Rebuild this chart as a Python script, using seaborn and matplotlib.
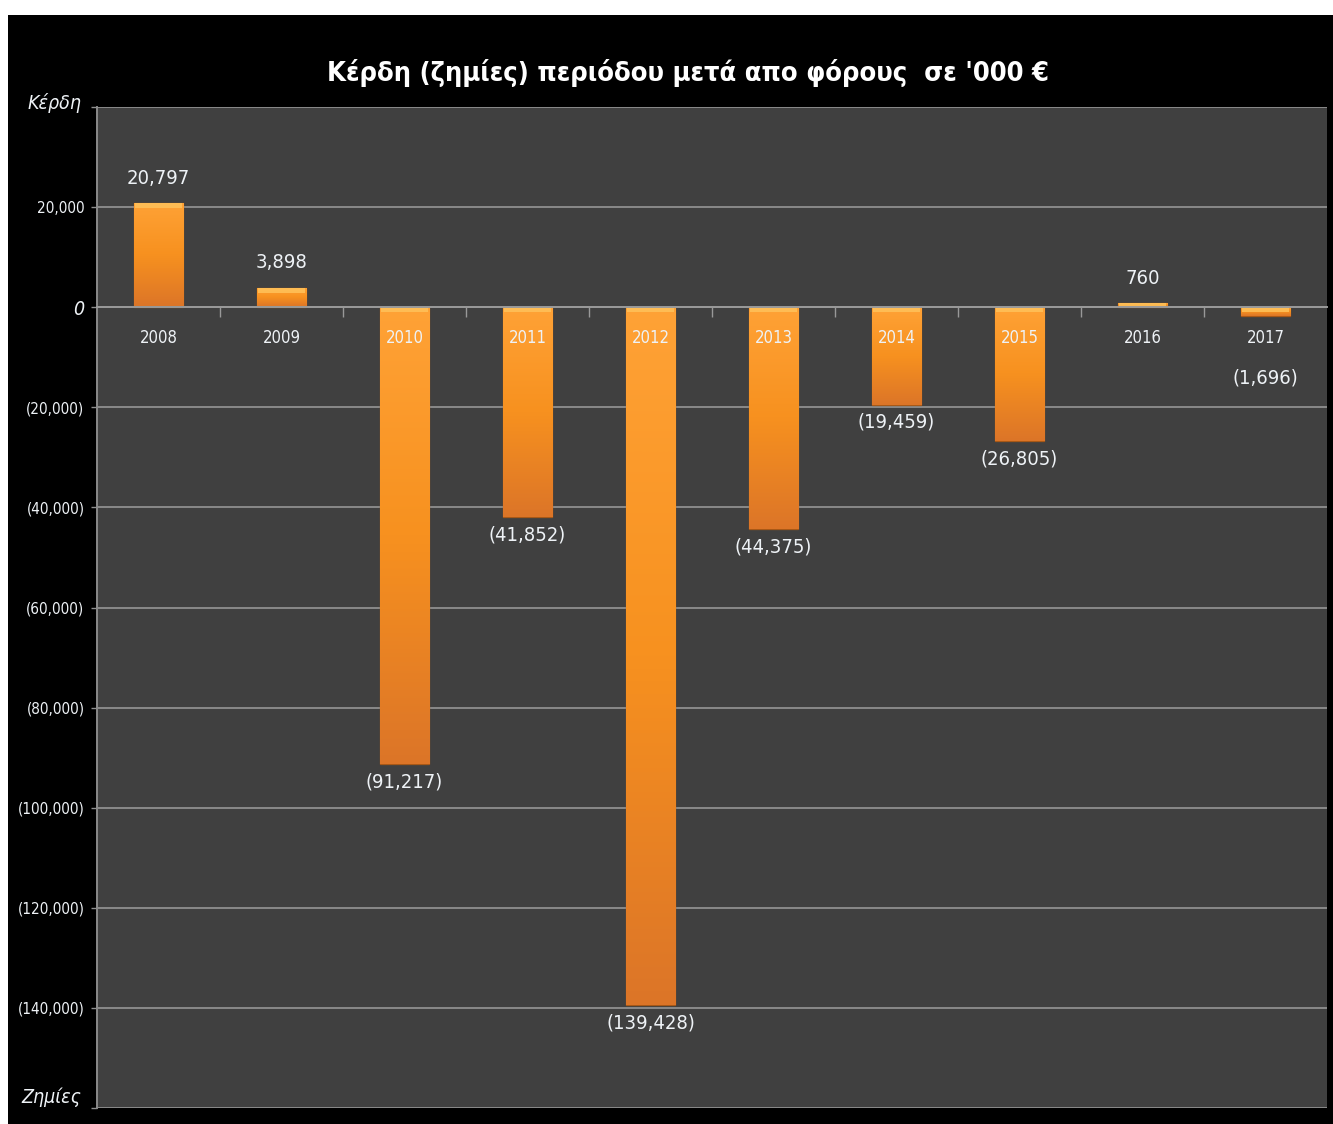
import numpy as np
import matplotlib
matplotlib.use('Agg')
import matplotlib.pyplot as plt
from matplotlib.patches import Rectangle
from matplotlib.colors import LinearSegmentedColormap
import seaborn as sns

# κέρδη / ζημίες σε '000 €
years = ['2008', '2009', '2010', '2011', '2012', '2013', '2014', '2015', '2016', '2017']
profits = [20797, 3898, -91217, -41852, -139428, -44375, -19459, -26805, 760, -1696]
ytick_vals = list(range(-160000, 40001, 20000))
title = "Κέρδη (ζημίες) περιόδου μετά απο φόρους  σε '000 €"

sns.set_style('dark')
plt.rcParams['font.family'] = ['DejaVu Sans']
plt.rcParams['font.stretch'] = 'condensed'

W, H = 1333, 1124
fig = plt.figure(figsize=(W / 100, H / 100), dpi=100, facecolor='white')
fig.patches.append(Rectangle((8 / W, 0), 1, (H - 15) / H, transform=fig.transFigure,
                             facecolor='black', edgecolor='none', zorder=-5))
ax = fig.add_axes([97 / W, 16 / H, 1230 / W, 1001 / H])
ax.set_facecolor('#404040')

sns.barplot(x=years, y=profits, color='#F7931E', width=0.4, ax=ax,
            edgecolor='#A85816', linewidth=0.9, zorder=1)
ax.set_xlim(-0.5, 9.5)
ax.set_ylim(-160000, 40000)

# gradient na kazdym slupku + jasny pasek u gory
cmap = LinearSegmentedColormap.from_list('orng', ['#FFA236', '#F7911F', '#DC7528'])
grad = np.linspace(0, 1, 256).reshape(-1, 1)
px = 200000 / 1001  # jednostki danych na piksel
for p in list(ax.patches):
    x0, y0 = p.get_x(), p.get_y()
    w, h = p.get_width(), p.get_height()
    top, bot = max(y0, y0 + h), min(y0, y0 + h)
    im = ax.imshow(grad, cmap=cmap, aspect='auto', extent=(x0, x0 + w, bot, top),
                   origin='upper', zorder=1.5)
    im.set_clip_path(p)
    bev = min(5 * px, top - bot)
    ax.add_patch(Rectangle((x0 + 0.01, top - bev), w - 0.02, bev, facecolor='#FFC25A',
                           edgecolor='none', alpha=0.85, zorder=1.6))
ax.set_xlim(-0.5, 9.5)
ax.set_ylim(-160000, 40000)

# etykiety wartosci
for p, v in zip(ax.patches, profits):
    xc = p.get_x() + p.get_width() / 2
    if v >= 0:
        ax.annotate(f'{v:,}', (xc, v), xytext=(0, 11), textcoords='offset points',
                    ha='center', va='bottom', fontsize=14.5, color='#EEF2F6')
    else:
        off = -38 if abs(v) < 5000 else -6
        ax.annotate(f'({abs(v):,})', (xc, v), xytext=(0, off), textcoords='offset points',
                    ha='center', va='top', fontsize=14.5, color='#EEF2F6')

# os Y
ax.set_yticks(ytick_vals)
ylabels = []
for v in ytick_vals:
    if v in (40000, -160000):
        ylabels.append('')
    elif v == 0:
        ylabels.append('0')
    elif v < 0:
        ylabels.append(f'({abs(v):,})')
    else:
        ylabels.append(f'{v:,}')
ax.set_yticklabels(ylabels)
for t in ax.get_yticklabels():
    if t.get_text() == '0':
        t.set_fontstyle('italic')
        t.set_fontsize(14)
    else:
        t.set_fontsize(11)
ax.tick_params(axis='y', colors='#EEF2F6', length=4, width=1, pad=5, left=True, color='#909090')
ax.grid(axis='y', color='#8A8A8A', linewidth=1.4, zorder=0)
ax.set_axisbelow(True)

# Κέρδη / Ζημίες na koncach osi
yl_tr = ax.get_yaxis_transform()
ax.annotate('Κέρδη', (0, ytick_vals[-1]), xycoords=yl_tr, xytext=(-11, 3), textcoords='offset points',
            ha='right', va='center', fontsize=14, fontstyle='italic', color='#EEF2F6',
            annotation_clip=False)
ax.annotate('Ζημίες', (0, ytick_vals[0]), xycoords=yl_tr, xytext=(-11, 8), textcoords='offset points',
            ha='right', va='center', fontsize=14, fontstyle='italic', color='#EEF2F6',
            annotation_clip=False)

# os X na zerze
ax.spines['bottom'].set_position(('data', 0))
ax.spines['bottom'].set_color('#999999')
ax.spines['bottom'].set_linewidth(1.4)
ax.spines['left'].set_color('#8A8A8A')
ax.spines['left'].set_linewidth(1.4)
ax.spines['top'].set_visible(False)
ax.spines['right'].set_visible(False)
ax.set_xticks(np.arange(len(years)))
ax.set_xticklabels(years)
ax.set_xticks(np.arange(0.5, len(years) - 1, 1), minor=True)
ax.tick_params(axis='x', which='major', length=0, pad=16, labelsize=12, colors='#EEF2F6')
ax.tick_params(axis='x', which='minor', bottom=True, length=7, width=1, color='#999999')
ax.xaxis.set_zorder(3)
ax.set_xlabel('')
ax.set_ylabel('')

fig.text(688 / W, 1 - 73 / H, title, ha='center', va='center', fontsize=19.5,
         fontweight='bold', color='white')

fig.savefig('out.png', dpi=100, facecolor='white')
